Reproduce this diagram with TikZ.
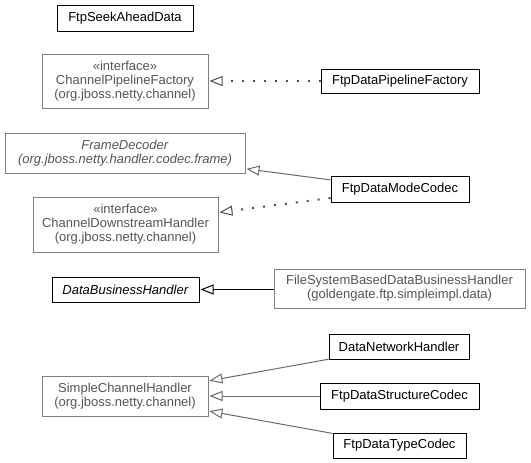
\documentclass[tikz,border=0pt]{standalone}
\usepackage{fontspec}
\setmainfont{Liberation Sans}
\usetikzlibrary{arrows.meta}
\definecolor{gborder}{HTML}{808080}
\definecolor{gtext}{HTML}{555555}
\definecolor{gline}{HTML}{6A6A6A}
\definecolor{gdot}{HTML}{505050}
\tikzset{
  cls/.style={draw=black, line width=1pt, fill=white, text=black, inner sep=0pt, align=center, font=\fontsize{13}{14}\selectfont},
  ext/.style={draw=gborder, line width=1pt, fill=white, text=gtext, inner sep=0pt, align=center, font=\fontsize{13}{14}\selectfont},
  inh/.style={-{Triangle[open, length=13pt, width=10pt, fill=white]}, line width=1pt, draw=gline, shorten >=1pt},
  impl/.style={-{Triangle[open, length=13pt, width=10pt, fill=white, line width=1pt]}, line width=2pt, draw=gdot, dash pattern=on 2pt off 9pt, shorten >=1pt},
}
\begin{document}
\begin{tikzpicture}[x=1pt, y=-1pt]
\useasboundingbox[fill=white] (0,0) rectangle (531,463);
\node[cls, minimum width=136pt, minimum height=26pt] (seek) at (125,18) {FtpSeekAheadData};
\node[ext, minimum width=166pt, minimum height=54pt] (cpf) at (125,81) {«interface»\\ChannelPipelineFactory\\(org.jboss.netty.channel)};
\node[ext, minimum width=240pt, minimum height=40pt] (fd) at (125,153) {\textit{FrameDecoder}\\\textit{(org.jboss.netty.handler.codec.frame)}};
\node[ext, minimum width=185pt, minimum height=55pt] (cdh) at (125.5,224.5) {«interface»\\ChannelDownstreamHandler\\(org.jboss.netty.channel)};
\node[cls, minimum width=158pt, minimum height=24pt] (dpf) at (400,81) {FtpDataPipelineFactory};
\node[cls, minimum width=138pt, minimum height=26pt] (dmc) at (400,189) {FtpDataModeCodec};
\node[cls, minimum width=147pt, minimum height=25pt] (dbh) at (125.5,289.5) {\textit{DataBusinessHandler}};
\node[ext, minimum width=251pt, minimum height=39pt] (fsb) at (399.5,288.5) {FileSystemBasedDataBusinessHandler\\(goldengate.ftp.simpleimpl.data)};
\node[cls, minimum width=140pt, minimum height=25pt] (dnh) at (399,346.5) {DataNetworkHandler};
\node[cls, minimum width=159pt, minimum height=26pt] (dsc) at (399.5,396) {FtpDataStructureCodec};
\node[cls, minimum width=133pt, minimum height=25pt] (dtc) at (399.5,445.5) {FtpDataTypeCodec};
\node[ext, minimum width=166pt, minimum height=40pt] (sch) at (125,396) {SimpleChannelHandler\\(org.jboss.netty.channel)};
\draw[impl] (dpf) -- (cpf);
\draw[inh] (dmc) -- (fd);
\draw[impl] (dmc) -- (cdh);
\draw[inh, draw=black] (fsb.west |- dbh) -- (dbh);
\draw[inh] (dnh) -- (sch);
\draw[inh] (dsc) -- (sch);
\draw[inh] (dtc) -- (sch);
\end{tikzpicture}
\end{document}
